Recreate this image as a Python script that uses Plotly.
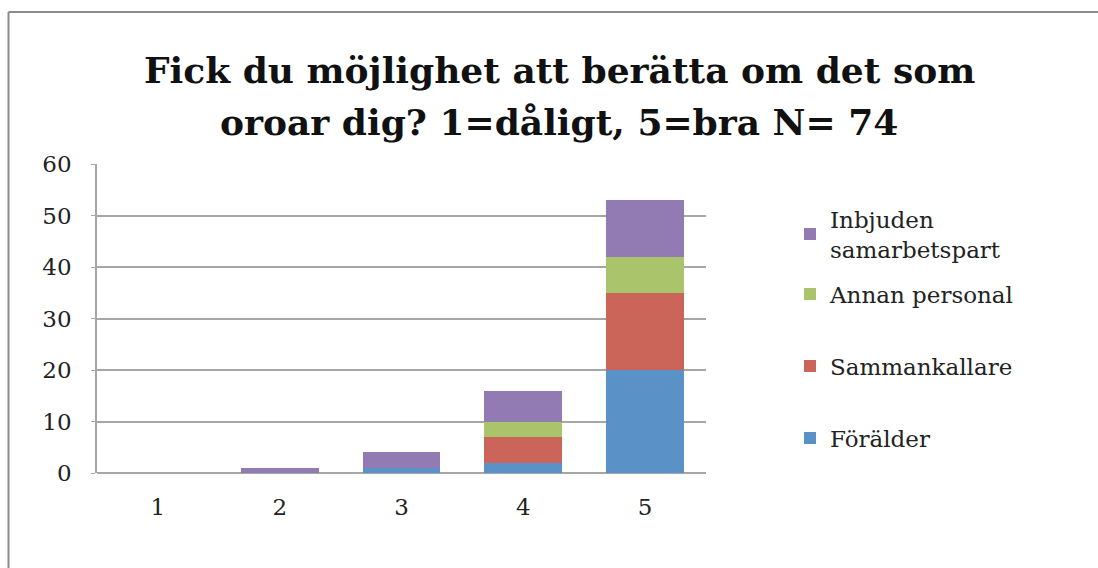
import plotly.graph_objects as go

categories = ["1", "2", "3", "4", "5"]
foralder = [0, 0, 1, 2, 20]
sammankallare = [0, 0, 0, 5, 15]
annan_personal = [0, 0, 0, 3, 7]
inbjuden = [0, 1, 3, 6, 11]

title_lines = ["Fick du möjlighet att berätta om det som",
               "oroar dig? 1=dåligt, 5=bra N= 74"]

W, H = 1098, 568
L, R, T, B = 97, 706, 164, 473
pw, ph = R - L, B - T

def px_x(x):
    return (x - L) / pw

def px_y(y):
    return (B - y) / ph

serif = "DejaVu Serif"

series = [
    ("Förälder", foralder, "#5a92c7", "legend4"),
    ("Sammankallare", sammankallare, "#cb655a", "legend3"),
    ("Annan personal", annan_personal, "#a9c46b", "legend2"),
    ("Inbjuden<br>samarbetspart", inbjuden, "#917bb2", "legend"),
]

fig = go.Figure()
for name, vals, col, lg in series:
    fig.add_trace(go.Bar(x=categories, y=vals, name=name, marker_color=col,
                         marker_line_width=0, legend=lg))

leg_common = dict(font=dict(family=serif, size=23, color="#222"),
                  bgcolor="rgba(0,0,0,0)", xanchor="left", yanchor="middle",
                  itemclick=False)
lx = px_x(790)
fig.update_layout(
    width=W, height=H,
    margin=dict(l=L, r=W - R, t=T, b=H - B),
    paper_bgcolor="white", plot_bgcolor="white",
    barmode="stack", bargap=0.36,
    legend=dict(x=lx, y=px_y(234), **leg_common),
    legend2=dict(x=lx, y=px_y(294), **leg_common),
    legend3=dict(x=lx, y=px_y(366), **leg_common),
    legend4=dict(x=lx, y=px_y(438), **leg_common),
    xaxis=dict(showgrid=False, showline=False, ticks="", ticklabelstandoff=18,
               tickfont=dict(family=serif, size=23, color="#222")),
    yaxis=dict(range=[0, 60], dtick=10, showgrid=True, gridcolor="#a6a6a6",
               gridwidth=1.5, showline=True, linecolor="#a6a6a6", linewidth=1.5,
               ticks="outside", ticklen=4, tickcolor="#a6a6a6", ticklabelstandoff=15,
               zeroline=True, zerolinecolor="#a6a6a6", zerolinewidth=1.5,
               tickfont=dict(family=serif, size=23, color="#222")),
    showlegend=True,
)

for i, (txt, yc) in enumerate(zip(title_lines, [70, 122])):
    fig.add_annotation(text=f"<b>{txt}</b>", xref="paper", yref="paper",
                       x=px_x(559), y=px_y(yc), xanchor="center", yanchor="middle",
                       showarrow=False,
                       font=dict(family=serif, size=36, color="#111"))

frame = dict(type="line", xref="paper", yref="paper",
             line=dict(color="#8c8c8c", width=2))
fig.add_shape(x0=px_x(8.5), x1=px_x(1110), y0=px_y(12), y1=px_y(12), **frame)
fig.add_shape(x0=px_x(8.5), x1=px_x(8.5), y0=px_y(12), y1=px_y(580), **frame)

fig.write_html("out.html", config={"displayModeBar": False},
               post_script="document.body.style.margin='0';")
